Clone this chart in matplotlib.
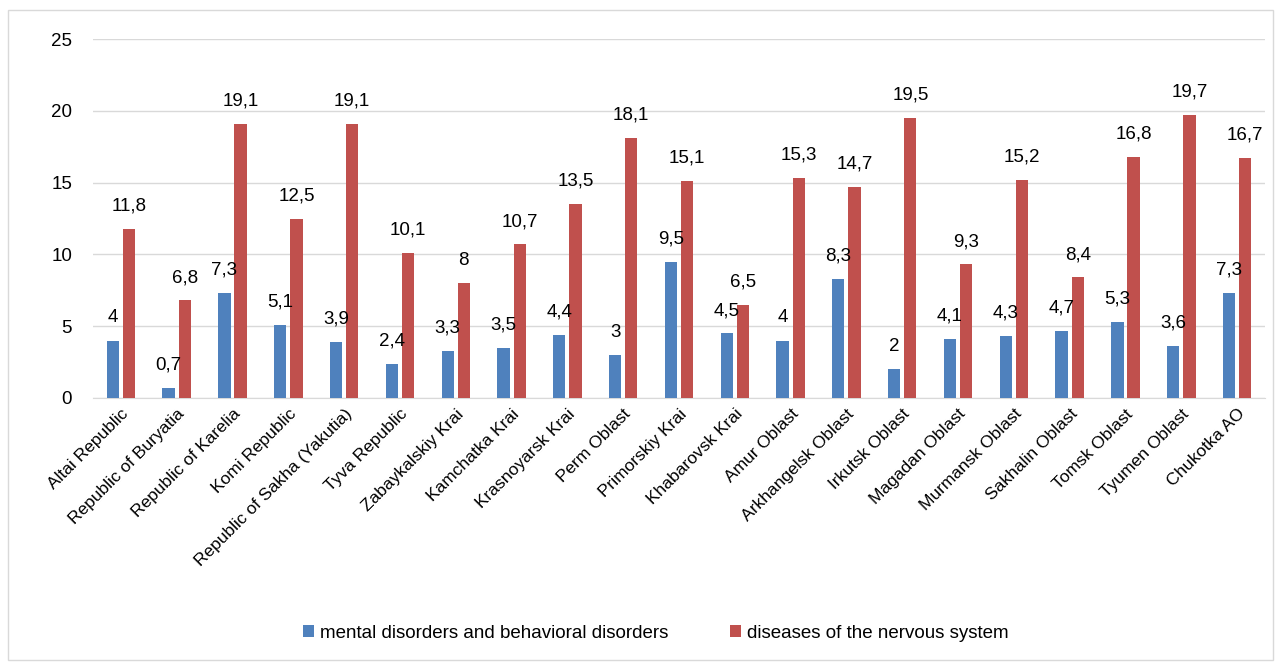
import numpy as np
import matplotlib
matplotlib.use("Agg")
import matplotlib.pyplot as plt
from matplotlib.patches import Rectangle

REGIONS = ["Altai Republic", "Republic of Buryatia", "Republic of Karelia", "Komi Republic",
           "Republic of Sakha (Yakutia)", "Tyva Republic", "Zabaykalskiy Krai", "Kamchatka Krai",
           "Krasnoyarsk Krai", "Perm Oblast", "Primorskiy Krai", "Khabarovsk Krai", "Amur Oblast",
           "Arkhangelsk Oblast", "Irkutsk Oblast", "Magadan Oblast", "Murmansk Oblast",
           "Sakhalin Oblast", "Tomsk Oblast", "Tyumen Oblast", "Chukotka AO"]
MENTAL = [4, 0.7, 7.3, 5.1, 3.9, 2.4, 3.3, 3.5, 4.4, 3, 9.5, 4.5, 4, 8.3, 2, 4.1, 4.3, 4.7, 5.3, 3.6, 7.3]
NERVOUS = [11.8, 6.8, 19.1, 12.5, 19.1, 10.1, 8, 10.7, 13.5, 18.1, 15.1, 6.5, 15.3, 14.7, 19.5,
           9.3, 15.2, 8.4, 16.8, 19.7, 16.7]
LABELS = ["mental disorders and behavioral disorders", "diseases of the nervous system"]
BLUE = "#4F81BD"
RED = "#C0504D"

plt.rcParams["font.family"] = ["Liberation Sans", "DejaVu Sans"]


def fmt(v):
    # decimal comma
    return f"{v:g}".replace(".", ",")


fig = plt.figure(figsize=(12.81, 6.63), dpi=100)
fig.patches.append(Rectangle((8 / 1281, 3 / 663), 1265 / 1281, 650 / 663, transform=fig.transFigure,
                             fill=False, edgecolor="#D9D9D9", linewidth=1))
ax = fig.add_axes([0.0726, 0.3997, 0.9149, 0.5414])

x = np.arange(len(REGIONS))
w = 0.22
off = 0.145
b1 = ax.bar(x - off, MENTAL, w, color=BLUE, label=LABELS[0], zorder=3)
b2 = ax.bar(x + off, NERVOUS, w, color=RED, label=LABELS[1], zorder=3)
for xi, v in zip(x - off, MENTAL):
    ax.text(xi, v + 1.0, fmt(v), ha="center", va="bottom", fontsize=13.5)
for xi, v in zip(x + off, NERVOUS):
    ax.text(xi, v + 1.0, fmt(v), ha="center", va="bottom", fontsize=13.5)

ax.set_xlim(-0.5, len(REGIONS) - 0.5)
ax.set_ylim(0, 25)
ax.set_yticks(range(0, 26, 5))
ax.yaxis.grid(True, color="#D9D9D9", linewidth=1, zorder=0)
ax.set_axisbelow(True)
for s in ["top", "right", "left"]:
    ax.spines[s].set_visible(False)
ax.spines["bottom"].set_color("#D9D9D9")
ax.tick_params(axis="y", length=0, labelsize=13.5, pad=15)
ax.tick_params(axis="x", length=0, labelsize=12.5, pad=6)
ax.set_xticks(x)
ax.set_xticklabels(REGIONS, rotation=45, ha="right", rotation_mode="anchor")

fig.legend(handles=[b1, b2], labels=LABELS, loc="center", bbox_to_anchor=(0.512, 1 - 633 / 663),
           ncol=2, frameon=False, fontsize=13.5, handlelength=0.6, handleheight=0.6,
           handletextpad=0.3, columnspacing=3.3)

fig.savefig("out.png", dpi=100)
